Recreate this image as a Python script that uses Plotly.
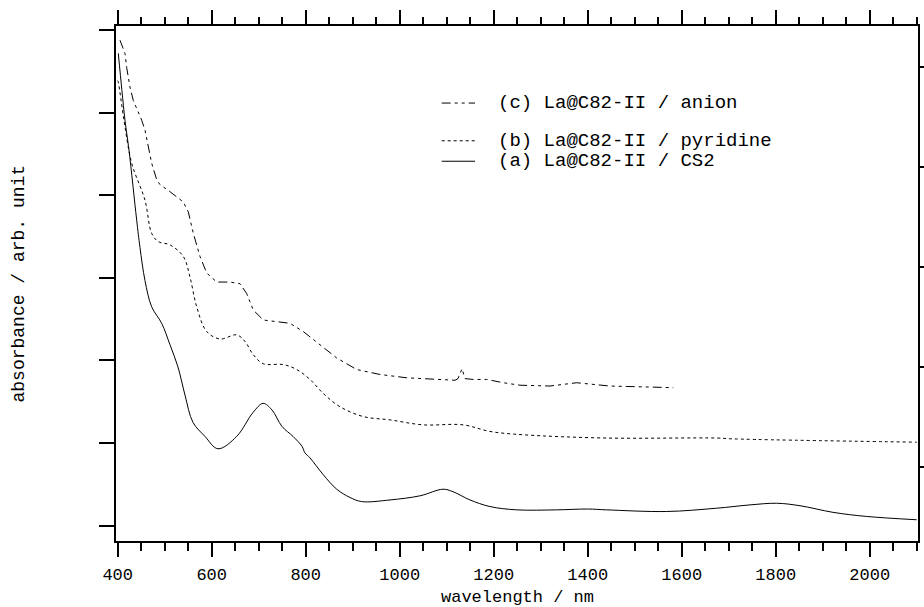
import plotly.graph_objects as go

# ---------------- data ----------------
wl_a = [401.3, 409, 415.5, 424, 440.4, 447.4, 458, 472.3, 493.6, 511.3, 528.3, 543.2, 560.2,
        585.7, 613.4, 653.2, 688, 709.4, 728.3, 749.6, 773, 792.1, 798.5, 809.1, 836.8, 866,
        894.3, 919.1, 979.4, 1043.2, 1092.1, 1113.4, 1149.6, 1192.1, 1249, 1334, 1400, 1440.4,
        1568, 1674.5, 1745.3, 1802, 1851.7, 1921.9, 1993.6, 2100]
abs_a = [5.72, 5.27, 4.91, 4.55, 3.70, 3.37, 2.97, 2.65, 2.45, 2.19, 1.92, 1.58, 1.25,
         1.08, 0.93, 1.08, 1.37, 1.48, 1.40, 1.20, 1.08, 0.96, 0.88, 0.82, 0.62, 0.44,
         0.34, 0.29, 0.31, 0.36, 0.44, 0.41, 0.31, 0.23, 0.19, 0.19, 0.20, 0.19,
         0.17, 0.21, 0.25, 0.27, 0.24, 0.16, 0.11, 0.07]

wl_b = [400, 401.3, 413.4, 429.8, 458.1, 472.3, 486.4, 511.3, 539.6, 553.8, 568.1, 589.4,
        617.7, 653.2, 670.9, 688.5, 709.8, 752.3, 780.9, 809.1, 837.4, 872.8, 922.6, 979.4,
        1049.6, 1134.7, 1192.1, 1262.3, 1440.4, 1674.5, 1709.1, 2100]
abs_b = [5.39, 5.37, 4.91, 4.39, 3.94, 3.54, 3.44, 3.40, 3.26, 3.01, 2.65, 2.35,
         2.26, 2.31, 2.23, 2.07, 1.96, 1.95, 1.89, 1.77, 1.60, 1.44, 1.32, 1.28,
         1.22, 1.22, 1.14, 1.10, 1.06, 1.06, 1.05, 1.01]

wl_c = [404.9, 415.5, 419.1, 426.2, 433.2, 451.1, 458.1, 465.1, 472.3, 483, 490, 507.7,
        521.9, 539.6, 550.2, 560.9, 575.1, 589.4, 610.6, 638.9, 660.2, 674.5, 688.5, 709.8,
        738.3, 766.6, 794.9, 830.4, 866, 908.5, 958.1, 1014.9, 1071.5, 1117.7, 1124, 1132.6,
        1139, 1156.6, 1185.1, 1220.4, 1256, 1319.8, 1376.6, 1447.4, 1518.3, 1582.1]
abs_c = [5.88, 5.72, 5.55, 5.31, 5.15, 4.91, 4.79, 4.59, 4.39, 4.19, 4.13, 4.06,
         4.00, 3.92, 3.80, 3.54, 3.26, 3.06, 2.95, 2.95, 2.93, 2.81, 2.61, 2.49,
         2.47, 2.45, 2.35, 2.19, 2.03, 1.89, 1.83, 1.79, 1.77, 1.76, 1.78, 1.90,
         1.78, 1.77, 1.77, 1.73, 1.70, 1.69, 1.73, 1.69, 1.68, 1.67]

x_tickvals = [400, 600, 800, 1000, 1200, 1400, 1600, 1800, 2000]
legend_labels = ["(c) La@C82-II / anion", "(b) La@C82-II / pyridine", "(a) La@C82-II / CS2"]
x_title = "wavelength / nm"
y_title = "absorbance / arb. unit"

FONT = "Liberation Mono, Courier New, monospace"
dash_a = "solid"
dash_b = "3px,3px"
dash_c = "9px,4px,3px,4px,3px,4px"

fig = go.Figure()
fig.add_trace(go.Scatter(x=wl_a, y=abs_a, mode="lines", line=dict(color="black", width=1, dash=dash_a),
                         line_shape="spline", showlegend=False))
fig.add_trace(go.Scatter(x=wl_b, y=abs_b, mode="lines", line=dict(color="black", width=1, dash=dash_b),
                         line_shape="spline", showlegend=False))
fig.add_trace(go.Scatter(x=wl_c, y=abs_c, mode="lines", line=dict(color="black", width=1, dash=dash_c),
                         showlegend=False))
# invisible traces so that the mirrored top / right axes are drawn
fig.add_trace(go.Scatter(x=[None], y=[None], xaxis="x2", yaxis="y", showlegend=False, hoverinfo="skip"))
fig.add_trace(go.Scatter(x=[None], y=[None], xaxis="x", yaxis="y2", showlegend=False, hoverinfo="skip"))

# plot area in pixels
L, R, T, B = 116, 918, 25.5, 541.5
W, H = R - L, B - T
def px(xp):
    return (xp - L) / W
def py(yp):
    return (B - yp) / H

xr = [396.4, 2102.8]
fig.update_layout(
    width=924, height=607,
    margin=dict(l=L, r=924 - R, t=T, b=607 - B, autoexpand=False),
    paper_bgcolor="white", plot_bgcolor="white",
    font=dict(family=FONT, size=18, color="black"),
    xaxis=dict(range=xr, tickmode="array", tickvals=x_tickvals, ticks="outside", ticklen=14,
               tickwidth=2, tickcolor="black", showline=True, linewidth=2, linecolor="black",
               showgrid=False, zeroline=False, automargin=False, ticklabelstandoff=3,
               minor=dict(dtick=50, tick0=400, ticks="outside", ticklen=8, tickwidth=2,
                          tickcolor="black", showgrid=False),
               tickfont=dict(size=17, family=FONT)),
    xaxis2=dict(range=xr, overlaying="x", side="top", anchor="y", showticklabels=False,
                tickmode="array", tickvals=x_tickvals, ticks="outside", ticklen=14, tickwidth=2,
                tickcolor="black", showline=True, linewidth=2, linecolor="black",
                showgrid=False, zeroline=False, automargin=False,
                minor=dict(dtick=50, tick0=400, ticks="outside", ticklen=7, tickwidth=2,
                           tickcolor="black", showgrid=False)),
    yaxis=dict(range=[-0.1874, 6.052], tickmode="linear", tick0=0, dtick=1, ticks="outside",
               ticklen=15, tickwidth=2, tickcolor="black", showticklabels=False,
               showline=True, linewidth=2, linecolor="black", showgrid=False, zeroline=False,
               automargin=False),
    yaxis2=dict(range=[-0.745, 4.415], overlaying="y", side="right", anchor="x",
                tickmode="linear", tick0=0, dtick=1, ticks="outside", ticklen=8, tickwidth=2,
                tickcolor="black", showticklabels=False, showline=True, linewidth=2,
                linecolor="black", showgrid=False, zeroline=False, automargin=False),
)

# axis titles
fig.add_annotation(xref="paper", yref="paper", x=0.5, y=py(598.5), text=x_title, showarrow=False,
                   xanchor="center", yanchor="middle", font=dict(size=17, family=FONT))
fig.add_annotation(xref="paper", yref="paper", x=px(18), y=0.5, text=y_title, showarrow=False,
                   textangle=-90, xanchor="center", yanchor="middle", font=dict(size=18, family=FONT))

# legend (text + sample lines)
leg_y = [102.7, 140.5, 161.0]
leg_dash = [dash_c, dash_b, dash_a]
for lab, yy, dd in zip(legend_labels, leg_y, leg_dash):
    fig.add_annotation(xref="paper", yref="paper", x=px(496), y=py(yy), text=lab, showarrow=False,
                       xanchor="left", yanchor="middle", font=dict(size=19, family=FONT))
    fig.add_shape(type="line", xref="paper", yref="paper", x0=px(441.7), x1=px(475),
                  y0=py(yy), y1=py(yy), line=dict(color="black", width=1, dash=dd))

fig.write_html("out.html")
